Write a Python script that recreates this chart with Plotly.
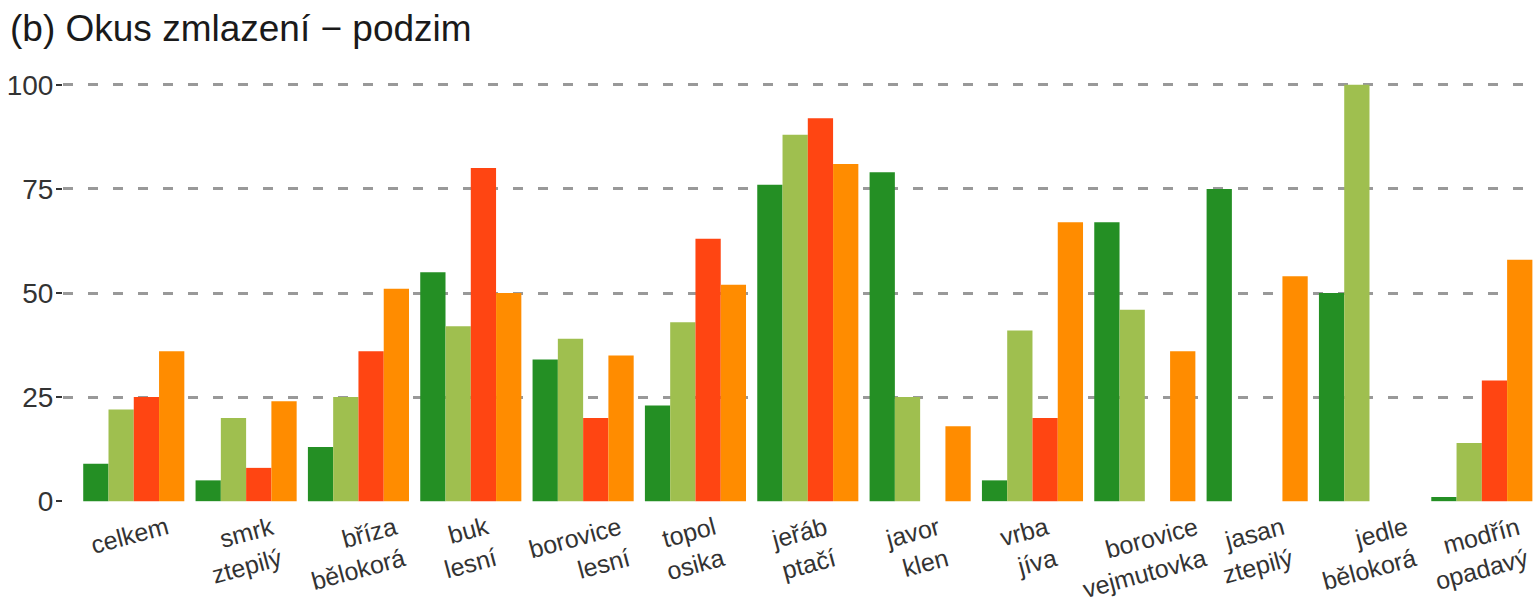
import plotly.graph_objects as go

# druhy dřevin (kategorie na ose x)
druhy = ['celkem', 'smrk ztepilý', 'bříza bělokorá', 'buk lesní', 'borovice lesní',
         'topol osika', 'jeřáb ptačí', 'javor klen', 'vrba jíva', 'borovice vejmutovka',
         'jasan ztepilý', 'jedle bělokorá', 'modřín opadavý']

# okus v % pro čtyři řady (None = bez hodnoty)
rada_1 = [9, 5, 13, 55, 34, 23, 76, 79, 5, 67, 75, 50, 1]
rada_2 = [22, 20, 25, 42, 39, 43, 88, 25, 41, 46, None, 100, 14]
rada_3 = [25, 8, 36, 80, 20, 63, 92, None, 20, None, None, None, 29]
rada_4 = [36, 24, 51, 50, 35, 52, 81, 18, 67, 36, 54, None, 58]

y_ticks = [0, 25, 50, 75, 100]

series = [('řada 1', rada_1, '#248f24'),
          ('řada 2', rada_2, '#9fbf4f'),
          ('řada 3', rada_3, '#ff4512'),
          ('řada 4', rada_4, '#ff8c00')]

font_family = 'Liberation Sans, Arial, sans-serif'

fig = go.Figure()
for name, values, color in series:
    fig.add_trace(go.Bar(x=druhy, y=values, name=name, marker_color=color,
                         marker_line_width=0, showlegend=False))

# popisky osy x jako natočený text, zarovnaný vpravo
for druh in druhy:
    fig.add_annotation(x=druh, y=0, xref='x', yref='paper',
                       text=druh.replace(' ', '<br>', 1),
                       showarrow=False, textangle=-15, align='right',
                       xanchor='center', yanchor='top', yshift=13, xshift=-4,
                       font=dict(family=font_family, size=25, color='#333333'))

fig.update_layout(
    width=1538, height=606,
    barmode='group', bargap=0.1, bargroupgap=0,
    plot_bgcolor='white', paper_bgcolor='white',
    margin=dict(l=63, r=0, t=64, b=84),
    title=dict(text='(b) Okus zmlazení − podzim', x=10 / 1538, xref='container', xanchor='left',
               y=1 - 28 / 606, yref='container', yanchor='middle',
               font=dict(family=font_family, size=37, color='#1a1a1a')),
    xaxis=dict(range=[-0.63, 12.5], showticklabels=False, showgrid=False,
               zeroline=False, showline=False, ticks=''),
    yaxis=dict(range=[-5, 105], tickvals=y_ticks, showgrid=False, zeroline=False,
               showline=False, ticks='outside', ticklen=6, tickwidth=2, tickcolor='#333333',
               ticklabelstandoff=-3,
               tickfont=dict(family=font_family, size=28, color='#333333')),
    # druhá osa jen kvůli čárkované mřížce bez čáry u nuly
    yaxis2=dict(range=[-5, 105], overlaying='y', tickvals=y_ticks[1:], showticklabels=False,
                showgrid=True, gridcolor='#999999', gridwidth=2.5, griddash='10px,15px',
                zeroline=False, showline=False, ticks=''),
)

# neviditelná stopa, aby se druhá osa vykreslila
fig.add_trace(go.Scatter(x=[druhy[0]], y=[None], yaxis='y2', showlegend=False,
                         hoverinfo='skip'))

fig.write_html('out.html', config={'displayModeBar': False},
               post_script="document.body.style.margin='0';")
